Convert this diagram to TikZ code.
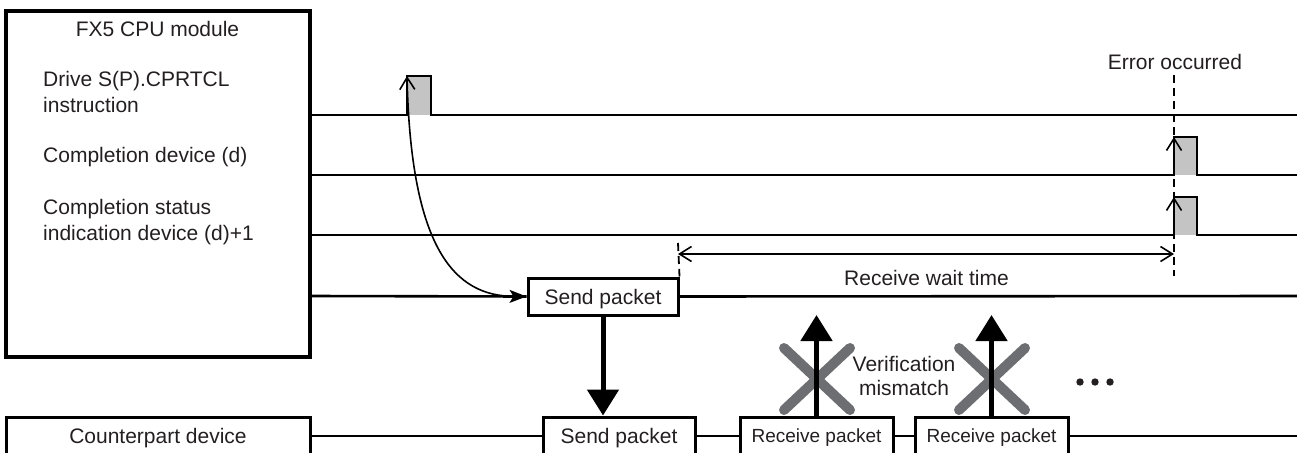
\documentclass[tikz,border=0pt]{standalone}
\usepackage{fontspec}
\setmainfont{Liberation Sans}
\usetikzlibrary{arrows.meta}
\definecolor{txt}{HTML}{231F20}
\definecolor{pulsefill}{HTML}{C4C4C4}
\definecolor{xgray}{HTML}{6D6E71}
\begin{document}
\begin{tikzpicture}[x=1pt,y=-1pt,
  sig/.style={line width=2.6pt, line join=miter},
  boxn/.style={draw, line width=3pt, minimum height=37pt, inner sep=0pt, text height=15pt, text depth=0pt, font=\fontsize{21}{25}\selectfont, text=txt},
  lbl/.style={inner sep=0pt, font=\fontsize{21}{25}\selectfont, text=txt},
  barbtip/.tip={Straight Barb[length=12pt,width=15pt,line width=1.6pt]},
  barb/.style={-barbtip, line width=1.6pt},
  dsh/.style={dash pattern=on 8pt off 5pt, line width=1.8pt},
  bigarrow/.style={-{Triangle[length=26pt,width=31pt]}, line width=5pt},
  xmark/.style={xgray, line width=10pt, line cap=round}
]
\useasboundingbox (0,0) rectangle (1297,452);
\clip (0,0) rectangle (1297,452);

% CPU module box and labels
\node[draw, line width=3.2pt, minimum width=304pt, minimum height=346pt, inner sep=0pt] (cpu) at (158,184) {};
\node[lbl, anchor=base] (cputitle) at (157.5,36.7) {FX5 CPU module};
\node[lbl, anchor=base west] (drv1) at (43,86.7) {Drive S(P).CPRTCL};
\node[lbl, anchor=base west] (drv2) at (43,112) {instruction};
\node[lbl, anchor=base west] (cmp) at (43,162.3) {Completion device (d)};
\node[lbl, anchor=base west] (sta1) at (43,214) {Completion status};
\node[lbl, anchor=base west] (sta2) at (43,240) {indication device (d)+1};

% Counterpart device
\node[boxn, minimum width=304pt, minimum height=38pt] (cp) at (158,436) {Counterpart device};

% Packets
\node[boxn, minimum width=150pt] (send1) at (603,296.5) {Send packet};
\node[boxn, minimum width=152pt, minimum height=38pt] (send2) at (619,436) {Send packet};
\node[boxn, minimum width=153pt, minimum height=38pt, font=\fontsize{19}{23}\selectfont, text height=13.6pt] (recv1) at (816.5,436) {Receive packet};
\node[boxn, minimum width=153pt, minimum height=38pt, font=\fontsize{19}{23}\selectfont, text height=13.6pt] (recv2) at (991.5,436) {Receive packet};

% pulses
\fill[pulsefill] (407,76) rectangle (431,115);
\fill[pulsefill] (1174,137) rectangle (1197,175);
\fill[pulsefill] (1174,197) rectangle (1197,235);

% signal lines
\draw[sig] (310,115) -- (407,115) -- (407,76) -- (431,76) -- (431,115) -- (1297,115);
\draw[sig] (310,175) -- (1174,175) -- (1174,137) -- (1197,137) -- (1197,175) -- (1297,175);
\draw[sig] (310,235) -- (1174,235) -- (1174,197) -- (1197,197) -- (1197,235) -- (1297,235);
\draw[sig] (310,296) -- (send1.west);
\draw[sig] (send1.east) -- (1297,296);
\draw[sig] (cp.east) -- (send2.west);
\draw[sig] (send2.east) -- (recv1.west);
\draw[sig] (recv1.east) -- (recv2.west);
\draw[sig] (recv2.east) -- (1297,436);

% rising edge arrows
\coordinate (p1) at (407,76);
\coordinate (p2b) at (1174,175);
\coordinate (p2) at (1174,137);
\coordinate (p3b) at (1174,235);
\coordinate (p3) at (1174,197);
\draw[barb] (p2b) -- (p2);
\draw[barb] (p3b) -- (p3);

% curved arrow from drive pulse to send packet
\draw[barbtip-{Stealth[length=17pt,width=13pt,inset=4pt]}, line width=1.6pt]
  (p1) .. controls (411,250) and (455,296) .. (send1.west);

% error line
\node[lbl, anchor=base] (err) at (1175,69.5) {Error occurred};
\coordinate (e1) at (1174,75);
\coordinate (e2) at (1174,276);
\draw[dsh] (e1) -- (e2);
\coordinate (w1) at (678,243);
\draw[dsh] (w1) -- (send1.north east);

% receive wait time
\coordinate (wa) at (678,254);
\coordinate (wb) at (1174,254);
\draw[barbtip-barbtip, line width=1.6pt] (wa) -- (wb);
\node[lbl, anchor=base] (rwt) at (926.5,285) {Receive wait time};

% thick arrows
\draw[bigarrow] (send1.south) -- (send1.south |- send2.north);
\draw[xmark] (784,348) -- (850,410);
\draw[xmark] (850,348) -- (784,410);
\draw[xmark] (959,348) -- (1025,410);
\draw[xmark] (1025,348) -- (959,410);
\coordinate (u1) at (816.5,315);
\coordinate (u2) at (991.5,315);
\draw[bigarrow] (recv1.north) -- (u1);
\draw[bigarrow] (recv2.north) -- (u2);

% verification mismatch
\node[lbl, anchor=base] (ver1) at (904,371) {Verification};
\node[lbl, anchor=base] (ver2) at (904,395) {mismatch};

% dots
\fill[txt] (1080,382) circle (3.7pt);
\fill[txt] (1095,382) circle (3.7pt);
\fill[txt] (1110,382) circle (3.7pt);
\end{tikzpicture}
\end{document}
